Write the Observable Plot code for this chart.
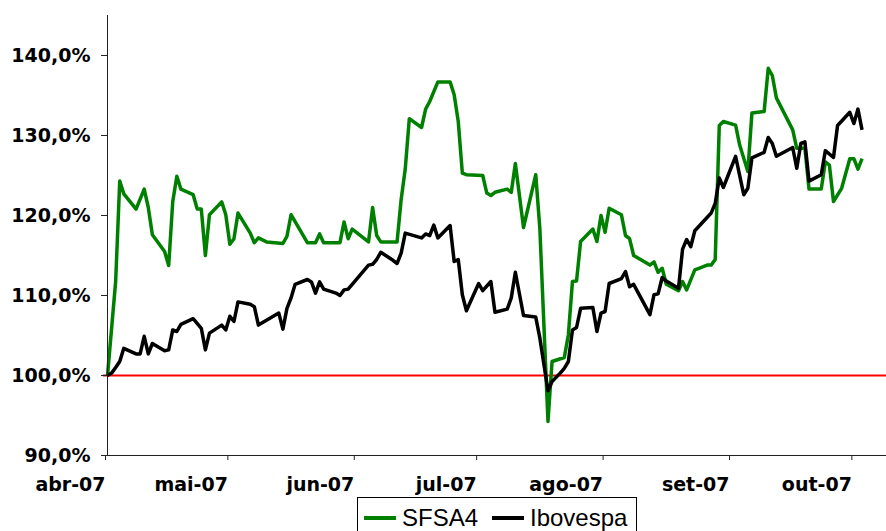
<!DOCTYPE html>
<html>
<head>
<meta charset="utf-8">
<script src="https://cdn.jsdelivr.net/npm/d3@7"></script>
<script src="https://cdn.jsdelivr.net/npm/@observablehq/plot@0.6"></script>
<style>
  html, body { margin: 0; padding: 0; background: #fff; overflow: hidden; }
  #wrap { position: relative; width: 886px; height: 531px; background: #fff; }
  #legend { position: absolute; left: 357px; top: 497px; width: 280px; height: 50px;
    border: 1px solid #000; background: #fff; box-sizing: border-box;
    font-family: "Liberation Sans", Arial, sans-serif; font-size: 24px; color: #000; }
  .item { position: absolute; top: 6px; height: 28px; display: flex; align-items: center; }
  .sw { display: inline-block; width: 32px; height: 3.5px; margin-right: 6px; }
</style>
</head>
<body>
<div id="wrap">
  <div id="chart"></div>
  <div id="legend"></div>
</div>
<script>
// ---- Data ----
const sfsaDates = [
  "04-02","04-04","04-05","04-06","04-09","04-11","04-12","04-13","04-16","04-17",
  "04-18","04-19","04-20","04-23","04-24","04-25","04-26","04-27","04-30","05-01",
  "05-02","05-03","05-04","05-07","05-08","05-09","05-11","05-15","05-16","05-17",
  "05-21","05-23","05-24","05-25","05-29","05-30","05-31","06-01","06-05","06-06",
  "06-07","06-08","06-12","06-13","06-14","06-15","06-18","06-19","06-20","06-22",
  "06-25","06-26","06-27","06-28","06-29","07-03","07-04","07-05","07-06","07-09",
  "07-10","07-11","07-13","07-16","07-17","07-19","07-20","07-23","07-24","07-25",
  "07-26","07-27","07-30","07-31","08-01","08-02","08-03","08-06","08-07","08-08",
  "08-09","08-13","08-14","08-15","08-16","08-17","08-20","08-21","08-22","08-24",
  "08-25","08-27","08-28","08-29","08-30","08-31","09-03","09-04","09-06","09-07",
  "09-10","09-11","09-12","09-13","09-17","09-18","09-20","09-21","09-24","09-25",
  "09-26","09-27","09-29","10-01","10-02","10-03","10-04"
];
const sfsaValues = [
  100, 111.75, 124.3, 122.7, 120.8, 123.3, 121, 117.6, 115.5, 113.75,
  121.75, 124.9, 123.3, 122.6, 120.8, 120.8, 115, 120.1, 121.7, 120.1,
  116.4, 117.1, 120.3, 117.8, 116.6, 117.2, 116.7, 116.5, 117.4, 120.1,
  116.6, 116.6, 117.7, 116.6, 116.6, 119.2, 117.1, 118.3, 116.7, 121,
  117.5, 116.7, 116.7, 122, 125.8, 132.1, 131, 133.3, 134.25, 136.7,
  136.7, 135.1, 131.75, 125.3, 125.1, 125, 122.8, 122.5, 122.9, 123.3,
  122.9, 126.5, 118.5, 125.1, 118.4, 94.25, 101.75, 102.25, 105.1, 111.75,
  111.8, 116.75, 118.3, 116.75, 120, 117.9, 120.9, 120.1, 117.5, 117.1,
  115, 113.8, 114.2, 112.9, 113.4, 111.4, 110.6, 111.75, 110.7, 113.2,
  113.4, 113.8, 113.8, 114.5, 131.25, 131.75, 131.3, 128.8, 125.5, 132.8,
  133, 138.4, 137.5, 134.7, 130.7, 128.4, 128.4, 123.3, 123.3, 126.7,
  126.3, 121.75, 123.4, 127.1, 127.1, 125.8, 127.1
];

const iboDates = [
  "04-02","04-03","04-04","04-05","04-06","04-09","04-10","04-11","04-12","04-13",
  "04-16","04-17","04-18","04-19","04-20","04-23","04-25","04-26","04-27","04-30",
  "05-01","05-02","05-03","05-04","05-07","05-08","05-09","05-14","05-15","05-16",
  "05-17","05-18","05-21","05-22","05-23","05-24","05-25","05-28","05-29","05-30",
  "05-31","06-01","06-05","06-06","06-07","06-08","06-11","06-12","06-13","06-14",
  "06-18","06-19","06-20","06-21","06-22","06-25","06-26","06-27","06-28","06-29",
  "07-02","07-03","07-05","07-06","07-09","07-10","07-11","07-13","07-16","07-17",
  "07-19","07-20","07-22","07-23","07-24","07-25","07-26","07-27","07-30","07-31",
  "08-01","08-02","08-03","08-06","08-07","08-08","08-09","08-13","08-14","08-15",
  "08-16","08-17","08-20","08-21","08-22","08-23","08-24","08-27","08-28","08-29",
  "08-30","08-31","09-03","09-05","09-06","09-07","09-10","09-11","09-12","09-13",
  "09-17","09-18","09-19","09-20","09-21","09-24","09-25","09-27","09-28","10-01",
  "10-02","10-03","10-04"
];
const iboValues = [
  100, 100.3, 101, 101.75, 103.4, 102.7, 102.7, 104.9, 102.7, 104,
  103.1, 103.2, 105.7, 105.5, 106.4, 107.1, 105.9, 103.2, 105.3, 106.3,
  105.7, 107.4, 106.75, 109.2, 108.9, 108.6, 106.3, 107.8, 105.8, 108.4,
  109.7, 111.4, 112, 111.7, 110.3, 111.7, 110.8, 110.3, 110, 110.7,
  110.8, 111.4, 113.8, 113.9, 114.5, 115.4, 114.4, 114, 115.3, 117.8,
  117.2, 117.7, 117.5, 118.8, 117.2, 118.75, 114.25, 114.5, 110.1, 108.1,
  111.5, 110.6, 111.75, 107.9, 108.3, 109.7, 112.9, 107.5, 107.3, 104.7,
  98.1, 99.25, 100.3, 100.9, 101.75, 105.7, 106, 108.4, 108.5, 105.5,
  107.8, 108, 111.5, 112.1, 113, 111.1, 111.4, 107.6, 110.1, 110.2,
  112.25, 111.8, 110.9, 115.8, 117, 116.1, 118.1, 119.75, 120.3, 121.5,
  124.7, 123.5, 127.4, 122.6, 123.4, 127.2, 127.9, 129.75, 129, 127.4,
  128.5, 125.9, 129, 129.2, 124.3, 125.1, 128.1, 127.25, 131.25, 132.9,
  131.5, 133.3, 130.7
];

const year = "2007";
const seriesNames = ["SFSA4", "Ibovespa"];
const seriesColors = ["#008000", "#000000"];
const xTickDates = ["04-02","05-02","06-02","07-02","08-02","09-02","10-02"];
const xTickLabels = ["abr-07","mai-07","jun-07","jul-07","ago-07","set-07","out-07"];
const xDomain = ["04-02", "10-10"];
const yTicks = [90, 100, 110, 120, 130, 140];
const yTickLabels = ["90,0%","100,0%","110,0%","120,0%","130,0%","140,0%"];
const yDomain = [90, 145];
const referenceLevel = 100;

// ---- Build table ----
const parse = d3.utcParse("%Y-%m-%d");
const toDate = s => parse(`${year}-${s}`);
const rows = [
  ...sfsaDates.map((d, i) => ({series: seriesNames[0], date: toDate(d), value: sfsaValues[i]})),
  ...iboDates.map((d, i) => ({series: seriesNames[1], date: toDate(d), value: iboValues[i]}))
];
const xTicks = xTickDates.map(toDate);
const xLabelOf = d => xTickLabels[xTicks.findIndex(t => +t === +d)];
const yLabelOf = v => yTickLabels[yTicks.indexOf(v)];

const chart = Plot.plot({
  width: 886,
  height: 497,
  marginLeft: 107,
  marginRight: 0,
  marginTop: 15,
  marginBottom: 42,
  style: {fontFamily: "DejaVu Sans, Verdana, sans-serif", fontWeight: "bold", fontSize: "19px", color: "#000", background: "#fff", overflow: "visible"},
  x: {type: "utc", domain: xDomain.map(toDate)},
  y: {domain: yDomain},
  color: {domain: seriesNames, range: seriesColors},
  marks: [
    Plot.ruleY([referenceLevel], {stroke: "#ff0000", strokeWidth: 2.2, insetLeft: -4}),
    Plot.line(rows, {x: "date", y: "value", z: "series", stroke: "series", strokeWidth: 3.5, strokeLinejoin: "round", strokeLinecap: "butt"}),
    Plot.frame({anchor: "left", stroke: "#222"}),
    Plot.frame({anchor: "bottom", stroke: "#222"}),
    Plot.axisY({ticks: yTicks, tickFormat: yLabelOf, tickSize: 6, tickPadding: 11, label: null, stroke: "#222"}),
    Plot.axisX({ticks: xTicks, tickFormat: xLabelOf, tickSize: 5, tickPadding: 17, textAnchor: "end", dx: -2, label: null, stroke: "#222"})
  ]
});
document.getElementById("chart").appendChild(chart);

// ---- Legend ----
const legend = document.getElementById("legend");
const itemLeft = [6, 134];
seriesNames.forEach((name, i) => {
  const item = document.createElement("div");
  item.className = "item";
  item.style.left = itemLeft[i] + "px";
  const sw = document.createElement("span");
  sw.className = "sw";
  sw.style.background = seriesColors[i];
  const label = document.createElement("span");
  label.textContent = name;
  item.appendChild(sw);
  item.appendChild(label);
  legend.appendChild(item);
});
</script>
</body>
</html>
